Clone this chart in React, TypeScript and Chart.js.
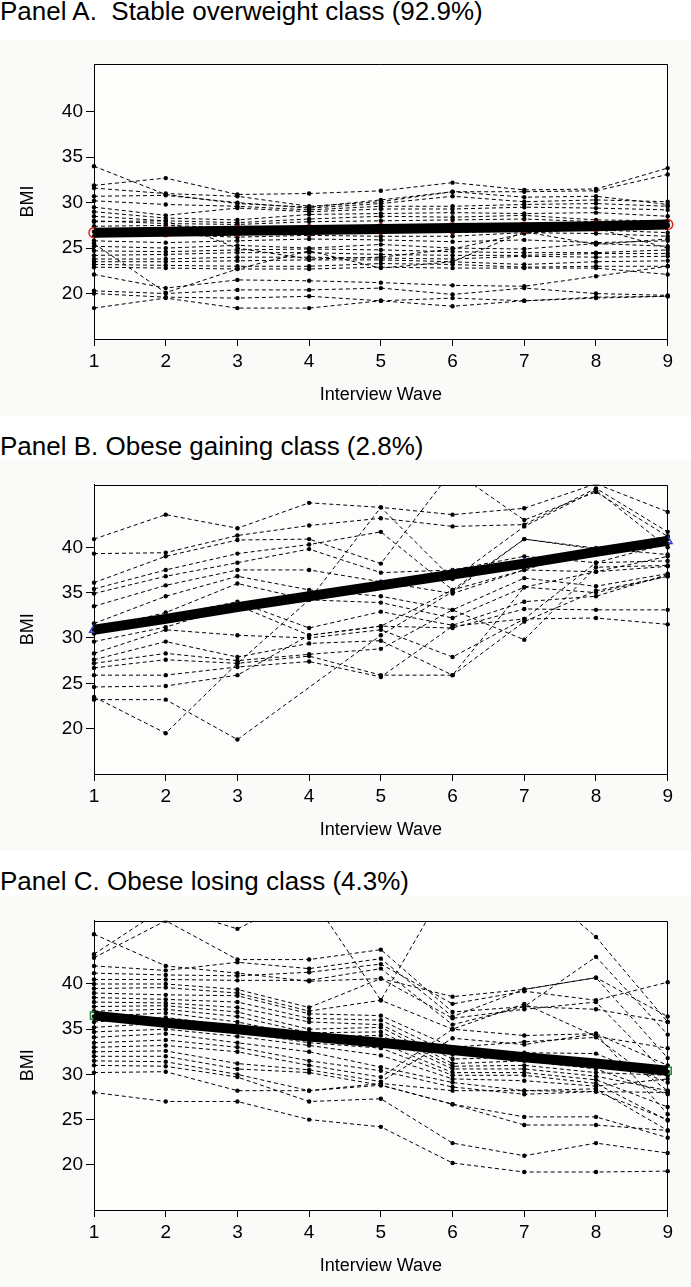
import React, { useEffect, useRef } from 'react';
import { Chart, registerables } from 'chart.js';
Chart.register(...registerables);

const waves = ['1', '2', '3', '4', '5', '6', '7', '8', '9'];
const yTicks = [20, 25, 30, 35, 40];
const xTitle = 'Interview Wave';
const yTitle = 'BMI';

const titleA = 'Panel A.  Stable overweight class (92.9%)';
const titleB = 'Panel B. Obese gaining class (2.8%)';
const titleC = 'Panel C. Obese losing class (4.3%)';

const meanA = [26.7, 26.8, 26.9, 27.0, 27.1, 27.2, 27.3, 27.4, 27.6];
const meanB = [30.9, 32.1, 33.4, 34.6, 35.8, 37.0, 38.2, 39.5, 40.7];
const meanC = [36.5, 35.7, 35.0, 34.2, 33.5, 32.7, 31.9, 31.2, 30.4];

const trajA: (number | null)[][] = [
  [34.0, 30.9, 29.9, 29.5, 30.3, 31.2, 30.6, 30.7, 29.8],
  [31.9, 32.7, 30.9, 31.0, 31.3, 32.2, 31.4, 31.5, 33.8],
  [31.6, 31.0, 30.7, 29.6, 30.1, 31.2, 31.2, 31.3, 33.1],
  [30.7, 30.8, 30.0, 29.4, 29.9, 30.7, 30.1, 30.3, 30.1],
  [30.2, 29.8, 29.6, 29.2, 29.6, 29.6, 29.8, 29.9, 29.6],
  [29.5, 28.6, 29.4, 29.0, 29.3, 29.3, 29.5, 29.4, 29.2],
  [29.0, 28.3, 28.1, 28.7, 28.8, 28.9, 28.8, 28.9, 28.5],
  [28.5, 28.0, 27.8, 28.2, 28.5, 28.4, 28.6, 28.1, 28.0],
  [28.0, 27.7, 27.6, 27.9, 28.0, 28.1, 28.2, 27.9, 27.6],
  [27.4, 27.5, 27.2, 27.4, 27.5, 27.6, 27.6, 27.5, 27.4],
  [26.8, 26.9, 26.7, 26.7, 26.9, 26.7, 26.9, 27.0, 26.7],
  [26.3, 26.5, 26.2, 26.4, 26.3, 26.3, 26.7, 26.6, 26.3],
  [25.8, 25.6, 25.8, 26.0, 25.9, 25.7, 25.9, 25.6, 25.8],
  [25.2, 25.0, 25.3, 25.0, 25.4, 25.0, 24.9, 25.5, 25.2],
  [24.7, 24.6, 24.8, 24.9, 24.8, 24.6, 24.5, 24.5, 24.8],
  [24.2, 24.3, 24.5, 24.5, 24.3, 24.2, 24.2, 24.4, 24.4],
  [23.8, 23.8, 24.0, 24.0, 23.9, 23.8, 24.1, 24.0, 24.1],
  [23.5, 23.5, 23.6, 23.7, 23.7, 23.5, 23.2, 23.5, 23.6],
  [23.2, 23.1, 23.0, 23.0, 23.3, 23.2, 22.9, 23.0, 23.0],
  [22.9, 22.8, 22.7, 22.7, 22.9, 22.8, 22.8, 22.8, 22.1],
  [22.1, 20.6, 21.5, 21.4, 21.2, 20.9, 20.8, 21.9, 23.0],
  [20.3, 20.0, 20.4, 20.4, 20.6, 19.9, 20.6, 20.0, 19.8],
  [20.0, 19.6, 19.5, 19.7, 19.2, 19.5, 19.2, 19.6, 19.7],
  [18.4, 19.5, 18.4, 18.4, 19.2, 18.6, 19.2, 19.5, 19.7],
  [25.5, 20.1, 22.7, 24.7, 22.8, 23.5, 26.8, 25.4, 26.0],
  [27.9, 28.0, 25.0, 23.8, 24.0, 24.9, 26.6, 27.2, 25.0],
];

const trajB: (number | null)[][] = [
  [40.9, 43.6, 42.1, 44.9, 44.4, 43.6, 44.3, 47.0, 43.9],
  [39.3, 39.4, 41.3, 42.4, 43.2, 42.3, 42.5, 46.5, 41.7],
  [36.1, 39.0, 40.8, 40.9, 38.2, 48.5, 43.0, 46.1, 41.2],
  [35.4, 37.5, 39.3, 40.3, 41.7, 35.3, 40.9, 39.9, 39.2],
  [34.9, 36.8, 38.3, 39.8, 37.2, 37.5, 39.0, 38.3, 38.5],
  [33.5, 35.8, 37.5, 37.5, 36.2, 34.9, 37.5, 37.3, 37.9],
  [31.6, 34.6, 36.8, 35.3, 34.6, 33.1, 36.6, 35.7, 37.1],
  [30.9, 32.8, 36.0, 34.2, 33.9, 32.2, 35.6, 35.0, 36.8],
  [30.5, 32.4, 34.0, 31.1, 32.9, 31.4, 34.0, 34.6, 37.0],
  [29.6, 31.2, 33.6, 30.3, 31.3, 31.1, 33.2, 33.1, 33.1],
  [28.3, 30.9, 30.3, 30.0, 30.9, 27.9, 32.1, 32.2, 31.5],
  [27.6, 29.6, 27.9, 29.4, 29.7, 25.9, 31.8, 35.2, 36.8],
  [27.2, 28.3, 27.5, 28.2, 28.8, 33.1, 29.8, 37.8, 38.0],
  [26.7, 27.6, 27.2, 28.0, 25.9, 25.9, 35.6, 37.3, 39.0],
  [25.9, 25.9, 26.8, 27.4, 25.7, 31.3, 32.1, 38.3, 40.4],
  [24.6, 24.7, 25.9, 30.3, 31.3, 35.3, 37.5, 39.9, 40.9],
  [23.5, 19.5, 27.2, 34.2, 44.4, 36.5, 42.3, 46.3, 40.0],
  [23.2, 23.2, 18.8, null, 30.3, 35.1, 40.9, 39.8, 41.2],
];

const trajC: (number | null)[][] = [
  [43.3, 48.5, 46.1, 50.0, 38.2, 52.0, 52.0, 45.2, 35.8],
  [45.5, 42.0, 41.2, 40.3, 40.6, 38.6, 39.4, 40.7, 36.4],
  [42.9, 47.0, 42.7, 42.7, 43.8, 36.9, 37.5, 43.0, 34.4],
  [42.0, 41.5, 42.4, 41.7, 42.8, 36.4, 39.4, 40.7, 31.8],
  [41.2, 41.0, 40.9, 41.3, 42.2, 37.8, 39.2, 38.2, 40.2],
  [40.5, 40.5, 40.4, 40.4, 41.7, 35.5, 37.5, 37.2, 35.8],
  [40.0, 40.0, 39.4, 37.4, 40.6, 36.2, 37.2, 38.0, 29.9],
  [39.5, 39.6, 39.0, 37.0, 38.2, 35.0, 34.3, 34.5, 25.6],
  [39.0, 38.8, 38.7, 36.7, 36.5, 33.0, 33.6, 34.1, 28.2],
  [38.5, 38.3, 38.0, 36.2, 36.0, 32.2, 32.4, 32.3, 29.1],
  [38.0, 37.9, 37.4, 35.8, 35.5, 31.7, 31.9, 31.5, 30.3],
  [37.5, 37.6, 36.9, 35.0, 35.2, 31.2, 31.5, 30.6, 27.8],
  [37.0, 37.2, 36.4, 34.6, 34.7, 30.9, 31.0, 30.2, 29.9],
  [36.4, 36.8, 35.8, 34.2, 34.3, 30.6, 30.6, 29.8, 28.2],
  [35.8, 36.3, 35.3, 33.8, 33.5, 30.2, 30.2, 29.4, 26.4],
  [35.2, 35.7, 34.7, 33.5, 32.9, 29.9, 29.9, 29.0, 24.9],
  [34.7, 35.0, 34.2, 33.2, 32.1, 29.5, 29.3, 28.7, 29.5],
  [34.1, 34.5, 33.5, 32.5, 30.8, 29.1, 28.2, 28.4, 23.8],
  [33.5, 33.8, 33.0, 31.5, 30.4, 28.6, 27.8, 28.1, 28.0],
  [33.0, 33.2, 32.5, 31.0, 29.7, 35.0, 37.8, 34.2, 32.9],
  [32.5, 32.6, 31.2, 30.5, 29.2, 34.0, 33.3, 34.5, 31.0],
  [32.0, 32.0, 30.6, 30.2, 28.8, 26.7, 25.3, 25.3, 23.0],
  [31.5, 31.4, 30.0, 28.2, 28.8, 26.7, 24.4, 24.4, 23.8],
  [31.0, 30.9, 29.7, 27.0, 27.3, 22.4, 21.0, 22.4, 21.3],
  [30.2, 30.3, 28.2, 28.2, 29.0, 28.2, 28.2, 28.1, 25.0],
  [28.0, 27.0, 27.0, 25.0, 24.2, 20.2, 19.2, 19.2, 19.3],
];

const FONT = "'Liberation Sans', Arial, Helvetica, sans-serif";

const boxPlugin = {
  id: 'boxPlugin',
  beforeDraw(chart: any) {
    const { ctx, chartArea: a, width, height } = chart;
    ctx.save();
    ctx.fillStyle = '#fafaf8';
    ctx.fillRect(0, 0, width, height);
    ctx.fillStyle = '#fdfdfc';
    ctx.fillRect(a.left, a.top, a.right - a.left, a.bottom - a.top);
    ctx.restore();
  },
  afterDraw(chart: any) {
    const { ctx, chartArea: a } = chart;
    ctx.save();
    ctx.strokeStyle = '#000';
    ctx.lineWidth = 1;
    ctx.beginPath();
    const t = Math.round(a.top) + 0.5;
    const r = Math.round(a.right) - 0.5;
    ctx.moveTo(Math.round(a.left), t);
    ctx.lineTo(r, t);
    ctx.lineTo(r, Math.round(a.bottom));
    ctx.stroke();
    ctx.restore();
  },
};

function makeConfig(
  traj: (number | null)[][],
  mean: number[],
  markerStyle: string,
  markerColor: string,
  yMax: number,
  padTop: number
): any {
  const datasets: any[] = [
    {
      data: mean,
      borderColor: '#000',
      borderWidth: 10,
      pointRadius: 0,
      order: 0,
      borderCapStyle: 'butt',
      clip: false,
    },
    {
      data: mean,
      showLine: false,
      pointStyle: markerStyle,
      pointRadius: 5,
      pointBorderColor: markerColor,
      pointBackgroundColor: 'rgba(0,0,0,0)',
      pointBorderWidth: 1.5,
      order: 1,
    },
    ...traj.map((t) => ({
      data: t,
      borderColor: '#000',
      borderWidth: 1,
      borderDash: [4, 3],
      pointRadius: 2.2,
      pointBackgroundColor: '#000',
      pointBorderColor: '#000',
      pointBorderWidth: 0,
      spanGaps: true,
      tension: 0,
      order: 2,
    })),
  ];
  return {
    type: 'line',
    data: { labels: waves, datasets },
    plugins: [boxPlugin],
    options: {
      responsive: false,
      animation: false,
      events: [],
      layout: { padding: { top: padTop, right: 23.3, left: 0, bottom: 0 } },
      plugins: { legend: { display: false }, tooltip: { enabled: false }, title: { display: false } },
      scales: {
        x: {
          type: 'category',
          offset: false,
          grid: { display: true, drawOnChartArea: false, drawTicks: true, tickLength: 7, color: '#000', lineWidth: 1 },
          border: { display: true, color: '#000', width: 1 },
          ticks: { color: '#000', font: { family: FONT, size: 19 }, padding: 4, maxRotation: 0, autoSkip: false },
          title: { display: true, text: xTitle, color: '#000', font: { family: FONT, size: 18 }, padding: { top: 0, bottom: 10 } },
          afterFit: (s: any) => { s.height = 77; },
        },
        y: {
          type: 'linear',
          min: 15,
          max: yMax,
          grid: { display: true, drawOnChartArea: false, drawTicks: true, tickLength: 8, color: '#000', lineWidth: 1 },
          border: { display: true, color: '#000', width: 1 },
          ticks: { color: '#000', font: { family: FONT, size: 19 }, padding: 3 },
          afterBuildTicks: (s: any) => { s.ticks = yTicks.map((v) => ({ value: v })); },
          title: { display: true, text: yTitle, color: '#000', font: { family: FONT, size: 18 }, padding: { top: 17, bottom: 0 } },
          afterFit: (s: any) => { s.width = 94; },
        },
      },
    },
  };
}

function Panel(props: { top: number; height: number; config: () => any }) {
  const ref = useRef<HTMLCanvasElement | null>(null);
  useEffect(() => {
    const chart = new Chart(ref.current as HTMLCanvasElement, props.config());
    return () => chart.destroy();
  }, []);
  return (
    <canvas
      ref={ref}
      width={691}
      height={props.height}
      style={{ position: 'absolute', left: 0, top: props.top, width: 691, height: props.height }}
    />
  );
}

const titleStyle = (top: number): React.CSSProperties => ({
  position: 'absolute',
  left: 0,
  top,
  fontFamily: FONT,
  fontSize: 26,
  lineHeight: 1,
  color: '#000',
  whiteSpace: 'pre',
});

export default function App() {
  return (
    <div style={{ position: 'absolute', left: 0, top: 0, width: 691, height: 1287, background: '#fff', overflow: 'hidden' }}>
      <div style={titleStyle(-2)}>{titleA}</div>
      <Panel top={40} height={376} config={() => makeConfig(trajA, meanA, 'circle', '#e0201b', 45.25, 24)} />
      <div style={titleStyle(433)}>{titleB}</div>
      <Panel top={460} height={391} config={() => makeConfig(trajB, meanB, 'triangle', '#3040c0', 46.9, 24.7)} />
      <div style={titleStyle(868)}>{titleC}</div>
      <Panel top={896} height={391} config={() => makeConfig(trajC, meanC, 'rect', '#1f8a3a', 47.0, 24.7)} />
    </div>
  );
}
